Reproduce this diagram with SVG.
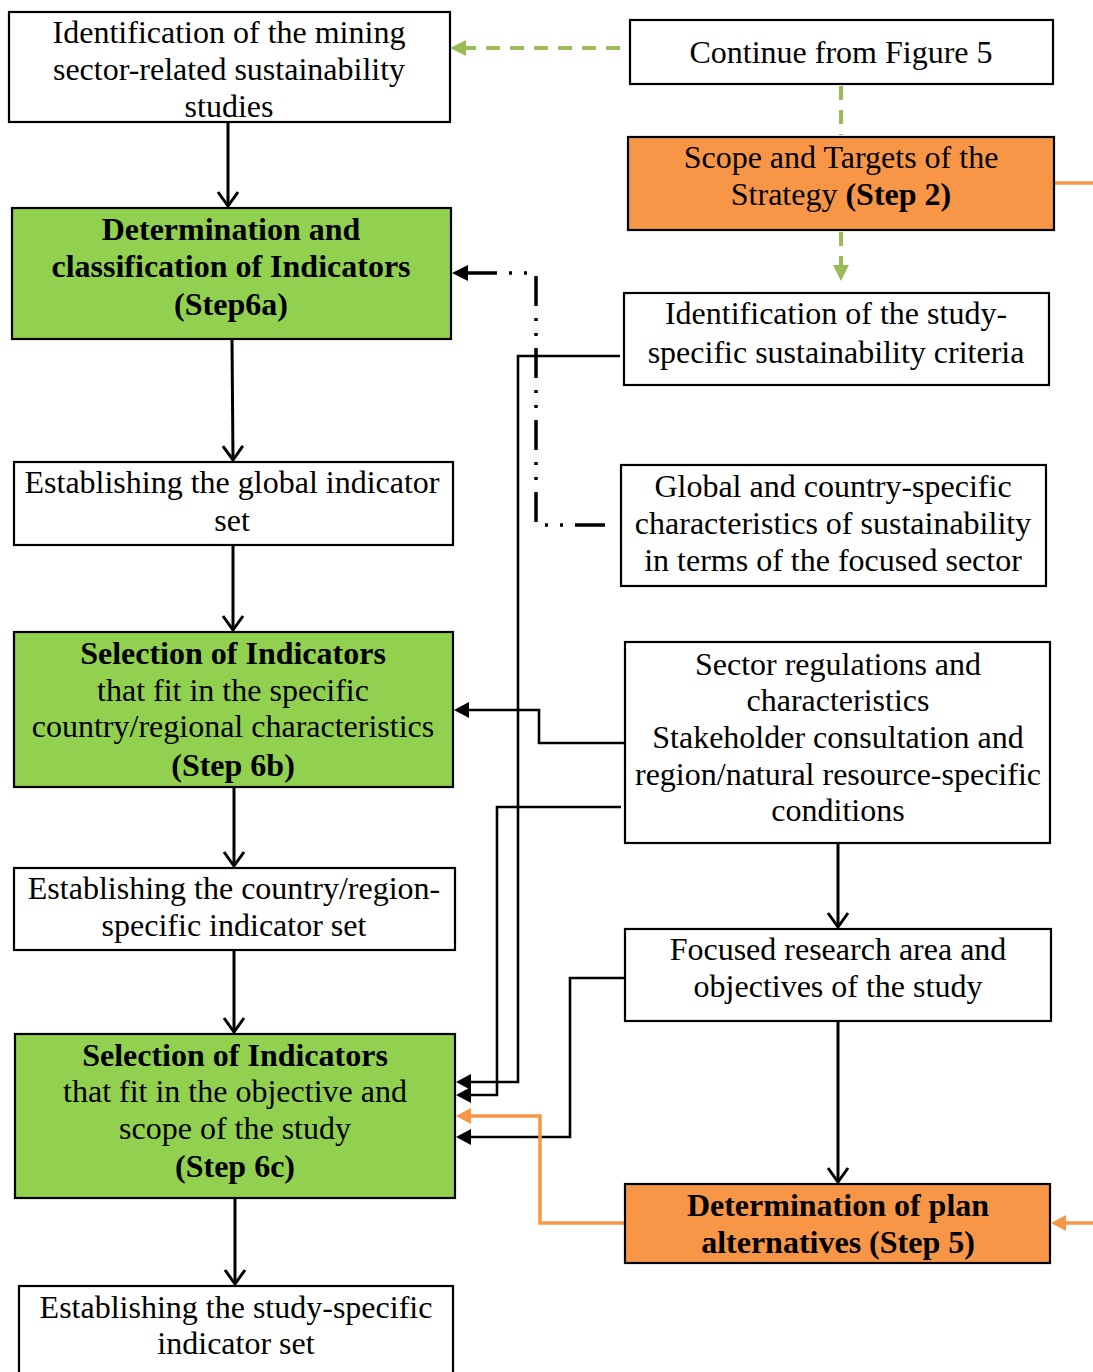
<svg xmlns="http://www.w3.org/2000/svg" width="1093" height="1372" viewBox="0 0 1093 1372">
  <style>
    .box { fill: #ffffff; stroke: #000000; stroke-width: 2.2; }
    .green { fill: #92D050; stroke: #000000; stroke-width: 2.2; }
    .orange { fill: #F79646; stroke: #000000; stroke-width: 2.2; }
    text { font-family: "Liberation Serif", "Times New Roman", serif; font-size: 32px; fill: #000000; text-anchor: middle; }
    .b { font-weight: bold; }
    .wire { fill: none; stroke: #000000; stroke-width: 2.6; }
    .down { fill: none; stroke: #000000; stroke-width: 3; marker-end: url(#vee); }
    .gdash { fill: none; stroke: #9BBB59; stroke-width: 4; stroke-dasharray: 14 10; }
    .oline { fill: none; stroke: #F79646; stroke-width: 3.5; }
  </style>
  <defs>
    <marker id="vee" markerUnits="userSpaceOnUse" markerWidth="30" markerHeight="30" viewBox="-15 -15 30 30" refX="0" refY="0" orient="auto">
      <path d="M -14 -10 L 0 0 L -14 10" fill="none" stroke="#000" stroke-width="3"/>
    </marker>
  </defs>

  <!-- connectors -->
  <g id="connectors">
    <!-- green dashed links -->
    <path class="gdash" d="M 620 48 L 466 48"/>
    <path d="M 466 40 L 450 48 L 466 56 Z" fill="#9BBB59"/>
    <path class="gdash" d="M 841 86 L 841 135" stroke-dasharray="14 12"/>
    <path class="gdash" d="M 841 232 L 841 265" stroke-dasharray="3 10 17 10"/>
    <path d="M 833 265 L 841 281 L 849 265 Z" fill="#9BBB59"/>

    <!-- orange links off the right edge -->
    <path class="oline" d="M 1055 183 L 1093 183"/>
    <path class="oline" d="M 1093 1223 L 1066 1223"/>
    <path d="M 1066 1215 L 1051 1223 L 1066 1231 Z" fill="#F79646"/>

    <!-- main vertical flow, left column -->
    <path class="down" d="M 228 123 L 228 206"/>
    <path class="down" d="M 232 340 L 233 460"/>
    <path class="down" d="M 233 546 L 233 630"/>
    <path class="down" d="M 234 788 L 234 866"/>
    <path class="down" d="M 234 951 L 234 1032"/>
    <path class="down" d="M 235 1199 L 235 1284"/>

    <!-- right column flow -->
    <path class="down" d="M 838 844 L 838 927"/>
    <path class="down" d="M 838 1022 L 838 1182"/>

    <!-- dash-dot feedback into Step 6a -->
    <path d="M 467 273 L 536 273 L 536 525 L 606 525" fill="none" stroke="#000" stroke-width="3.5" stroke-dasharray="30 12 3 12 3 12"/>
    <path d="M 468 265 L 452 273 L 468 281 Z" fill="#000"/>

    <!-- criteria to Step 6c -->
    <path class="wire" d="M 620 356 L 518 356 L 518 1082 L 470 1082"/>
    <path d="M 471 1074 L 456 1082 L 471 1090 Z" fill="#000"/>

    <!-- sector regulations to Step 6b -->
    <path class="wire" d="M 625 743 L 539 743 L 539 710 L 468 710"/>
    <path d="M 469 702 L 454 710 L 469 718 Z" fill="#000"/>

    <!-- sector regulations to Step 6c -->
    <path class="wire" d="M 621 807 L 497 807 L 497 1095 L 470 1095"/>
    <path d="M 471 1087 L 456 1095 L 471 1103 Z" fill="#000"/>

    <!-- focused research area to Step 6c -->
    <path class="wire" d="M 628 978 L 570 978 L 570 1137 L 470 1137"/>
    <path d="M 471 1129 L 456 1137 L 471 1145 Z" fill="#000"/>

    <!-- plan alternatives to Step 6c -->
    <path class="oline" d="M 624 1223 L 540 1223 L 540 1116 L 470 1116"/>
    <path d="M 471 1108 L 456 1116 L 471 1124 Z" fill="#F79646"/>
  </g>

  <!-- left column -->
  <g id="mining-studies">
    <rect class="box" x="9" y="12" width="441" height="110"/>
    <text x="229" y="43">Identification of the mining</text>
    <text x="229" y="80">sector-related sustainability</text>
    <text x="229" y="117">studies</text>
  </g>
  <g id="step6a">
    <rect class="green" x="12" y="208" width="439" height="131"/>
    <text class="b" x="231" y="240">Determination and</text>
    <text class="b" x="231" y="277">classification of Indicators</text>
    <text class="b" x="231" y="315">(Step6a)</text>
  </g>
  <g id="global-set">
    <rect class="box" x="14" y="462" width="439" height="83"/>
    <text x="232" y="493">Establishing the global indicator</text>
    <text x="232" y="531">set</text>
  </g>
  <g id="step6b">
    <rect class="green" x="14" y="632" width="439" height="155"/>
    <text class="b" x="233" y="664">Selection of Indicators</text>
    <text x="233" y="701">that fit in the specific</text>
    <text x="233" y="737">country/regional characteristics</text>
    <text class="b" x="233" y="776">(Step 6b)</text>
  </g>
  <g id="country-set">
    <rect class="box" x="14" y="868" width="441" height="82"/>
    <text x="234" y="899">Establishing the country/region-</text>
    <text x="234" y="936">specific indicator set</text>
  </g>
  <g id="step6c">
    <rect class="green" x="15" y="1034" width="440" height="164"/>
    <text class="b" x="235" y="1066">Selection of Indicators</text>
    <text x="235" y="1102">that fit in the objective and</text>
    <text x="235" y="1139">scope of the study</text>
    <text class="b" x="235" y="1177">(Step 6c)</text>
  </g>
  <g id="study-set">
    <rect class="box" x="19" y="1286" width="434" height="100"/>
    <text x="236" y="1318">Establishing the study-specific</text>
    <text x="236" y="1354">indicator set</text>
  </g>

  <!-- right column -->
  <g id="figure5">
    <rect class="box" x="630" y="20" width="423" height="64"/>
    <text x="841" y="63">Continue from Figure 5</text>
  </g>
  <g id="step2">
    <rect class="orange" x="628" y="137" width="426" height="93"/>
    <text x="841" y="168">Scope and Targets of the</text>
    <text x="841" y="205">Strategy <tspan class="b">(Step 2)</tspan></text>
  </g>
  <g id="criteria">
    <rect class="box" x="624" y="293" width="425" height="92"/>
    <text x="836" y="324">Identification of the study-</text>
    <text x="836" y="363">specific sustainability criteria</text>
  </g>
  <g id="characteristics">
    <rect class="box" x="621" y="465" width="425" height="121"/>
    <text x="833" y="497">Global and country-specific</text>
    <text x="833" y="534">characteristics of sustainability</text>
    <text x="833" y="571">in terms of the focused sector</text>
  </g>
  <g id="regulations">
    <rect class="box" x="625" y="642" width="425" height="201"/>
    <text x="838" y="675">Sector regulations and</text>
    <text x="838" y="711">characteristics</text>
    <text x="838" y="748">Stakeholder consultation and</text>
    <text x="838" y="785">region/natural resource-specific</text>
    <text x="838" y="821">conditions</text>
  </g>
  <g id="research-area">
    <rect class="box" x="625" y="929" width="426" height="92"/>
    <text x="838" y="960">Focused research area and</text>
    <text x="838" y="997">objectives of the study</text>
  </g>
  <g id="step5">
    <rect class="orange" x="625" y="1184" width="425" height="79"/>
    <text class="b" x="838" y="1216">Determination of plan</text>
    <text class="b" x="838" y="1253">alternatives (Step 5)</text>
  </g>
</svg>
